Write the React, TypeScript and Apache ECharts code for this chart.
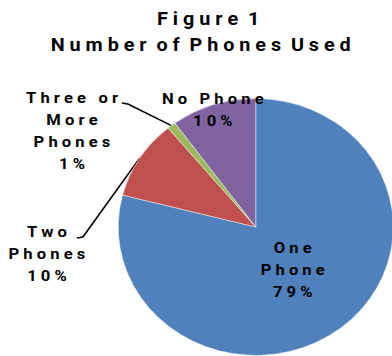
import React, { useEffect, useRef } from 'react';
import * as echarts from 'echarts';

const categories = ['One Phone', 'Two Phones', 'Three or More Phones', 'No Phone'];
const labelWords = [['One', 'Phone'], ['Two', 'Phones'], ['Three or', 'More', 'Phones'], ['No Phone']];
const values = [79, 10, 1, 10];
const colors = ['#4F81BD', '#C0504D', '#9BBB59', '#8064A2'];
const titleLines = ['Figure 1', 'Number of Phones Used'];

const SX = 1.071;
const W = 366;
const H = 356;
const FONT = "Roboto, 'Liberation Sans', sans-serif";

const labelPos: [number, number][] = [[273.3, 270], [43.8, 253.5], [67.2, 130.5], [198.7, 110]];
const labelBends: ([number, number][] | null)[] = [null, [[77.4, 237], [71.8, 238]], [[119.4, 104], [113.8, 103]], null];

const NB = '\u00A0';
function spaced(s: string, wordGap = 2) {
  return s
    .split(' ')
    .map((w) => w.split('').join(NB))
    .join(NB.repeat(wordGap));
}

export default function App() {
  const ref = useRef<HTMLDivElement>(null);
  useEffect(() => {
    if (!ref.current) return;
    const chart = echarts.init(ref.current, undefined, { renderer: 'svg' });
    const titleStyle = { fontFamily: FONT, fontWeight: 'bold' as const, fontSize: 18.5, color: '#000', lineHeight: 26 };
    chart.setOption({
      animation: false,
      title: [
        { text: spaced(titleLines[0]), left: 189.4, top: 1, textAlign: 'center', textStyle: titleStyle },
        { text: spaced(titleLines[1]), left: 182.4, top: 27, textAlign: 'center', textStyle: titleStyle },
      ],
      series: [
        {
          type: 'pie',
          center: [238.8, 227],
          radius: 128.4,
          startAngle: 90,
          clockwise: true,
          silent: true,
          avoidLabelOverlap: false,
          itemStyle: { borderColor: 'rgba(255,255,255,0.7)', borderWidth: 0.6 },
          label: {
            show: true,
            position: 'outside',
            color: '#000',
            fontFamily: FONT,
            fontWeight: 'bold',
            fontSize: 15.5,
            lineHeight: 22,
            align: 'center',
            formatter: (p: any) =>
              labelWords[p.dataIndex].map((w) => spaced(w, 3)).join('\n') + '\n' + spaced(`${Math.round(p.percent)}%`),
          },
          labelLine: { show: true, smooth: false, lineStyle: { color: '#000', width: 1.5 } },
          labelLayout: (params: any) => {
            const i = params.dataIndex;
            const res: any = { x: labelPos[i][0], y: labelPos[i][1], align: 'center', verticalAlign: 'middle' };
            const b = labelBends[i];
            if (b && params.labelLinePoints) res.labelLinePoints = [params.labelLinePoints[0], ...b];
            return res;
          },
          data: categories.map((name, i) => ({
            name,
            value: values[i],
            itemStyle: { color: colors[i] },
            labelLine: { show: !!labelBends[i] },
          })),
        },
      ],
    });
    return () => chart.dispose();
  }, []);
  return (
    <div
      ref={ref}
      style={{ position: 'fixed', left: 0, top: 0, width: W, height: H, transform: `scaleX(${SX})`, transformOrigin: '0 0', background: '#fff' }}
    />
  );
}
